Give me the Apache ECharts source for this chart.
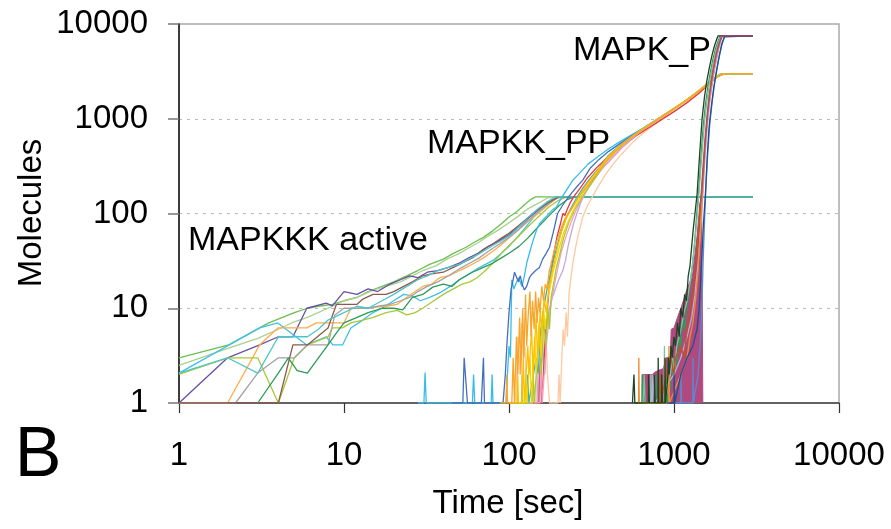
<!DOCTYPE html>
<html>
<head>
    <meta charset="utf-8">
    <title>MAPK cascade - stochastic runs</title>
    <script src="https://cdn.jsdelivr.net/npm/echarts@6/dist/echarts.min.js"></script>
    <style>
        html, body {margin: 0; padding: 0; background: #fff;}
        #main {width: 891px; height: 529px;}
    </style>
</head>
<body>
<div id="main"></div>
<script>
    // tick labels of both log axes
    var timeTicks = [1, 10, 100, 1000, 10000];
    var moleculeTicks = [1, 10, 100, 1000, 10000];

    // ---- MAPKKK active runs: [time, molecules]
    var kkkGreen = [[1, 3], [2, 4.1], [3.5, 7], [5, 9], [6, 10], [7, 10.5], [8.5, 11], [10, 12], [12, 13], [14, 15], [17, 17], [20, 19], [24, 22], [28, 25], [33, 29], [40, 33], [46, 38], [55, 44], [62, 50], [70, 56], [80, 66], [90, 78], [100, 92], [112, 105], [125, 125], [135, 140], [145, 150], [3000, 150]];
    var kkkLightGreen = [[1, 2.5], [2, 3.8], [3, 4.8], [4, 6], [5, 7.2], [6, 8], [8, 10], [10, 12], [12, 13], [15, 15.5], [18, 17], [22, 19], [26, 22], [30, 25], [36, 28], [42, 33], [50, 38], [58, 44], [66, 50], [75, 58], [85, 66], [100, 80], [115, 95], [130, 112], [150, 128], [170, 145], [185, 150], [3000, 150]];
    var kkkPurple = [[1, 1], [1.97, 3], [3.08, 4.1], [4, 5], [4.9, 5], [5.95, 10], [7.8, 11.3], [8.5, 10.6], [10, 15], [12, 14], [14, 16], [16, 15], [19, 18], [22, 20], [25, 22], [28, 21], [32, 24], [37, 25], [43, 27], [50, 30], [57, 34], [65, 38], [75, 45], [88, 52], [100, 60], [115, 72], [130, 88], [150, 108], [170, 128], [195, 145], [210, 150], [3000, 150]];
    var kkkCyan = [[1, 2.07], [3.08, 6.2], [3.97, 7], [5.95, 4.1], [7.8, 5], [8.55, 4.1], [9.8, 4.1], [11, 6.2], [13, 7.5], [15, 9], [17, 10], [20, 12], [23, 14], [26, 13.5], [29, 12], [33, 13], [38, 14.5], [44, 17], [50, 20], [57, 23], [64, 26], [72, 29], [80, 32], [90, 38], [100, 45], [112, 56], [125, 70], [140, 90], [160, 118], [180, 138], [200, 150], [3000, 150]];
    var kkkOrange = [[1, 1], [1.97, 1], [3.08, 4.1], [3.97, 6.2], [5.95, 6.2], [6.8, 7], [10, 7], [11, 10], [13, 10], [15, 10.2], [18, 10.5], [21, 11], [24, 13], [27, 15], [30, 17], [34, 18], [38, 21], [43, 22], [48, 24], [55, 27], [62, 30], [70, 34], [80, 40], [90, 47], [100, 55], [115, 68], [130, 82], [150, 100], [175, 125], [200, 150], [3000, 150]];
    var kkkYellowGreen = [[1, 2], [1.97, 3], [3, 3], [4, 1], [5, 3], [6, 4.1], [8, 5], [8.5, 6.2], [9.8, 6.2], [11, 7], [13, 7.5], [15, 8], [18, 9], [21, 9.5], [24, 8.5], [27, 9], [30, 10], [35, 12], [40, 14], [46, 16], [52, 18], [58, 19], [64, 21], [72, 25], [80, 30], [90, 38], [100, 46], [115, 58], [130, 72], [150, 92], [175, 118], [200, 138], [225, 150], [3000, 150]];
    var kkkGray = [[1, 1], [2.2, 1], [3, 2.07], [4, 3], [5, 3], [6, 4.1], [8, 4.1], [8.8, 8.5], [10, 10], [12, 10], [14, 10], [16, 10.5], [19, 11], [22, 12], [25, 13], [28, 15], [32, 17], [37, 19], [43, 22], [50, 26], [58, 30], [66, 34], [75, 40], [88, 48], [100, 56], [115, 68], [130, 84], [150, 104], [175, 128], [200, 150], [3000, 150]];
    var kkkBrown = [[1, 1], [4, 1], [4.9, 4.1], [6, 4.1], [8, 6.2], [9, 11], [10, 11], [12, 11], [13, 12.5], [15, 14], [18, 14], [20, 15], [23, 17], [26, 19], [30, 22], [34, 23], [40, 24], [46, 27], [52, 30], [60, 34], [70, 42], [80, 48], [90, 55], [100, 62], [115, 75], [130, 90], [150, 110], [175, 132], [200, 150], [3000, 150]];
    var kkkDarkGreen = [[3, 1], [4, 2.07], [4.6, 3], [5.2, 2.2], [6, 2.07], [7, 3], [8, 4.1], [9, 5.5], [10, 7], [12, 8], [14, 9], [17, 10], [20, 10], [22.7, 9.6], [26, 13], [30, 14], [34.5, 16.7], [40, 18], [45, 17], [50, 20], [60, 24], [70, 27], [80, 30], [90, 34], [100, 38], [115, 45], [130, 55], [150, 72], [175, 95], [200, 120], [225, 140], [250, 150], [3000, 150]];
    var kkkTeal = [[1, 2.07], [1.97, 3], [3, 2.07], [4, 5], [6, 5], [7, 6], [8, 7.5], [10, 9], [12, 10.5], [14, 10], [17, 12], [20, 14], [24, 17], [28, 20], [32, 22], [37, 25], [43, 27], [50, 29], [57, 33], [65, 37], [75, 43], [87, 50], [100, 58], [115, 72], [130, 90], [150, 112], [170, 132], [190, 150], [3000, 150]];

    // ---- MAPKK_PP runs
    var kkCyan = [[28, 1], [30.5, 1], [31, 2.1], [31.5, 1], [60, 1], [61, 2], [62, 1], [78, 1], [79, 2], [80, 1], [96, 1], [98, 2.1], [100, 4], [102, 3], [104, 20], [107, 16], [110, 18], [114, 21], [120, 17], [124, 22], [128, 30], [134, 40], [140, 52], [147, 67], [153, 78], [160, 85], [170, 95], [182, 108], [194, 117], [205, 140], [220, 170], [244, 225], [270, 270], [300, 330], [340, 390], [400, 480], [460, 560], [540, 660], [630, 770], [740, 920], [870, 1100], [1000, 1290], [1150, 1500], [1300, 1760], [1450, 2050], [1600, 2380], [1750, 2700], [1900, 2960], [1960, 3000], [3000, 3000]];
    var kkBlue = [[45, 1], [52.5, 1], [53.5, 3], [55, 3], [56, 1], [68, 1], [70, 3], [71, 1], [92, 1], [95, 2], [97, 4], [100, 9], [103, 16], [106, 20], [108, 24], [111, 23], [114, 19], [117, 22], [120, 18], [124, 15.6], [128, 17], [133, 21], [138, 23], [145, 25], [153, 27], [160, 33], [168, 38], [176, 44], [185, 62], [197, 100], [210, 120], [222, 138], [240, 165], [260, 195], [280, 225], [310, 300], [350, 370], [400, 450], [480, 560], [560, 670], [660, 800], [780, 960], [900, 1130], [1050, 1350], [1200, 1580], [1400, 1920], [1600, 2340], [1800, 2730], [2000, 3000], [3000, 3000]];
    var kkPeach = [[105, 1], [110, 1], [113, 5], [116, 2], [119, 7], [122, 3], [125, 4], [128, 1], [145, 1], [147, 2], [150, 1], [156, 3], [160, 8], [163, 3], [167, 6], [171, 2], [176, 1], [198, 1], [201, 2], [204, 1], [209, 3], [213, 6], [217, 4], [222, 9], [226, 5], [231, 14], [238, 22], [244, 30], [252, 42], [262, 58], [272, 75], [280, 92], [292, 110], [305, 130], [320, 150], [345, 190], [380, 250], [420, 320], [480, 420], [560, 560], [660, 720], [780, 900], [920, 1120], [1080, 1380], [1280, 1700], [1480, 2080], [1680, 2470], [1880, 2850], [2050, 3000], [3000, 3000]];
    var kkLavender = [[130, 1], [148, 1], [150, 2], [152, 1], [160, 4], [165, 2], [170, 7], [176, 10], [183, 13], [191, 16], [200, 20], [212, 25], [220, 32], [228, 45], [237, 60], [247, 80], [258, 100], [272, 130], [290, 165], [320, 215], [360, 285], [420, 380], [500, 520], [600, 680], [720, 860], [860, 1060], [1020, 1300], [1200, 1590], [1400, 1950], [1600, 2330], [1800, 2720], [2000, 3000], [3000, 3000]];
    var kkRed = [[140, 1], [152, 1], [155, 3], [158, 1], [165, 4], [170, 9], [175, 16], [181, 26], [188, 40], [196, 58], [205, 78], [212, 100], [218, 95], [225, 110], [235, 130], [250, 155], [270, 185], [300, 240], [340, 305], [400, 400], [480, 510], [580, 650], [700, 800], [850, 990], [1000, 1190], [1200, 1480], [1430, 1880], [1650, 2400], [1850, 2800], [2050, 3000], [3000, 3000]];
    var kkPink = [[120, 1], [138, 1], [140, 2], [143, 1], [154, 1], [156, 3], [159, 1], [168, 4], [174, 7], [181, 12], [189, 18], [198, 27], [208, 40], [220, 55], [234, 75], [250, 100], [268, 130], [290, 165], [320, 220], [360, 290], [420, 390], [500, 530], [600, 690], [720, 870], [860, 1070], [1020, 1310], [1200, 1600], [1400, 1960], [1600, 2350], [1800, 2740], [2000, 3000], [3000, 3000]];
    var kkTeal = [[110, 1], [128, 1], [130, 2], [132, 1], [146, 3], [150, 2], [156, 6], [162, 10], [169, 15], [177, 22], [186, 32], [196, 46], [208, 66], [222, 90], [238, 115], [256, 145], [280, 185], [310, 235], [350, 300], [400, 410], [480, 540], [570, 680], [680, 840], [810, 1020], [960, 1230], [1130, 1480], [1330, 1820], [1530, 2200], [1730, 2600], [1930, 2950], [1980, 3000], [3000, 3000]];
    var kkYellowGreen = [[100, 1], [119, 1], [120, 2], [121, 1], [138, 1], [140, 2], [142, 1], [149, 3], [153, 6], [157, 2], [162, 8], [167, 4], [172, 10], [176, 6], [180, 13], [186, 18], [193, 26], [202, 36], [214, 55], [230, 80], [250, 110], [275, 145], [305, 190], [350, 270], [400, 380], [480, 520], [570, 660], [680, 820], [810, 1000], [960, 1210], [1130, 1460], [1330, 1800], [1530, 2190], [1730, 2590], [1930, 2940], [2000, 3000], [3000, 3000]];
    var kkYellow = [[115, 1], [125, 1], [126, 2], [128, 1], [134, 3], [137, 1], [143, 5], [146, 2], [152, 7], [156, 3], [162, 10], [166, 6], [172, 13], [178, 17], [185, 24], [193, 32], [202, 44], [214, 62], [228, 82], [244, 105], [262, 135], [285, 170], [315, 225], [360, 300], [410, 400], [480, 520], [560, 650], [660, 800], [780, 970], [920, 1170], [1080, 1400], [1280, 1720], [1480, 2100], [1680, 2500], [1880, 2870], [2020, 3000], [3000, 3000]];
    var kkGold = [[100, 1], [112, 1], [113, 2], [114, 1], [120, 1], [122, 3], [124, 1], [130, 4], [132, 2], [137, 6], [140, 2], [146, 8], [149, 3], [155, 10], [158, 5], [163, 13], [168, 9], [174, 16], [180, 22], [188, 30], [197, 44], [208, 64], [222, 88], [238, 110], [255, 135], [280, 175], [310, 225], [350, 295], [400, 400], [470, 520], [550, 640], [650, 790], [770, 950], [900, 1140], [1050, 1350], [1250, 1680], [1450, 2050], [1650, 2450], [1850, 2830], [2000, 3000], [3000, 3000]];
    var kkOrange = [[88, 1], [96, 1], [97, 2], [98, 1], [104, 1], [106, 3], [108, 1], [111, 5], [113, 2], [116, 8], [118, 2], [121, 10], [123, 3], [126, 14], [128, 4], [131, 9], [134, 15], [136, 5], [139, 12], [142, 6], [145, 15], [148, 7], [151, 13], [154, 9], [158, 17], [162, 12], [166, 18], [170, 16], [175, 24], [182, 32], [190, 44], [198, 56], [207, 70], [218, 88], [230, 102], [244, 118], [260, 145], [280, 170], [307, 205], [340, 260], [380, 340], [430, 430], [500, 560], [580, 680], [680, 820], [800, 990], [950, 1210], [1100, 1430], [1300, 1730], [1500, 2130], [1700, 2560], [1900, 2900], [2050, 3000], [3000, 3000]];

    // ---- MAPK_P runs
    var kDarkGreen = [[560, 1], [571, 1], [572, 2], [578, 2], [579, 1], [700, 1], [701, 2], [708, 2], [709, 1], [760, 1], [762, 2], [770, 1], [800, 1], [802, 3], [806, 1], [840, 1], [842, 2], [850, 2], [852, 1], [880, 1], [882, 3], [888, 1], [920, 2], [925, 3], [935, 2], [960, 4], [975, 3], [1000, 5], [1020, 4], [1050, 7], [1075, 5], [1100, 10], [1130, 8], [1160, 14], [1190, 12], [1220, 22], [1250, 28], [1280, 45], [1310, 70], [1340, 100], [1380, 160], [1420, 350], [1450, 600], [1480, 1000], [1530, 1700], [1580, 2500], [1640, 3500], [1700, 4700], [1760, 5900], [1820, 7000], [1850, 7500], [3000, 7500]];
    var kGreen = [[600, 1], [640, 1], [641, 2], [648, 2], [649, 1], [780, 1], [781, 2], [786, 1], [900, 1], [902, 2], [910, 1], [980, 2], [990, 3], [1000, 2], [1050, 3], [1080, 5], [1100, 4], [1130, 8], [1160, 6], [1200, 10], [1230, 14], [1270, 22], [1300, 30], [1340, 55], [1380, 110], [1420, 200], [1460, 420], [1500, 800], [1550, 1400], [1600, 2100], [1660, 3100], [1720, 4200], [1790, 5600], [1860, 6800], [1900, 7500], [3000, 7500]];
    var kTealGreen = [[650, 1], [660, 2], [668, 1], [720, 1], [722, 2], [726, 1], [870, 1], [875, 4], [880, 1], [950, 2], [980, 3], [1000, 2], [1040, 4], [1100, 6], [1150, 9], [1200, 12], [1260, 20], [1320, 40], [1380, 90], [1430, 200], [1480, 450], [1530, 900], [1580, 1500], [1640, 2400], [1720, 3800], [1800, 5300], [1880, 6800], [1920, 7500], [3000, 7500]];
    var kLavender = [[730, 1], [738, 2], [745, 1], [760, 1], [762, 2], [768, 1], [1000, 2], [1100, 3], [1200, 5], [1280, 8], [1340, 14], [1400, 30], [1450, 70], [1500, 170], [1540, 380], [1590, 800], [1640, 1400], [1710, 2400], [1790, 3800], [1870, 5500], [1950, 7100], [1980, 7500], [3000, 7500]];
    var kOrange = [[610, 1], [612, 3], [616, 1], [850, 1], [880, 1], [882, 3], [888, 1], [930, 1], [932, 4], [938, 1], [1100, 2], [1200, 3], [1250, 5], [1300, 7], [1350, 12], [1400, 25], [1440, 60], [1480, 140], [1520, 300], [1560, 650], [1610, 1200], [1670, 2000], [1740, 3200], [1820, 4800], [1900, 6500], [1960, 7500], [3000, 7500]];
    var kBrown = [[750, 1], [820, 1], [822, 2], [830, 1], [900, 2], [960, 3], [1000, 2], [1020, 3], [1100, 4], [1150, 3], [1200, 6], [1250, 9], [1300, 14], [1340, 22], [1380, 40], [1420, 80], [1460, 160], [1500, 320], [1540, 600], [1580, 1000], [1630, 1700], [1690, 2700], [1760, 4000], [1840, 5600], [1920, 7000], [1960, 7500], [3000, 7500]];
    var kLightBlue = [[1000, 1], [1100, 1], [1102, 2], [1110, 1], [1300, 1], [1302, 3], [1310, 1], [1400, 2], [1450, 5], [1480, 12], [1500, 30], [1530, 80], [1560, 180], [1600, 420], [1650, 900], [1710, 1600], [1780, 2700], [1860, 4100], [1940, 5800], [2010, 7100], [2040, 7500], [3000, 7500]];
    var kDarkBlue = [[900, 1], [1000, 1], [1002, 2], [1010, 1], [1100, 2], [1200, 3], [1300, 4], [1380, 6], [1420, 10], [1450, 20], [1480, 40], [1510, 80], [1550, 160], [1590, 400], [1630, 800], [1680, 1300], [1740, 2100], [1810, 3200], [1880, 4600], [1950, 6200], [2020, 7300], [2050, 7500], [3000, 7500]];
    // dense magenta run: the noisy part reads as a filled block
    var kMagentaNoise = [[640, 1], [645, 2], [740, 2], [760, 2.1], [800, 2.2], [860, 2.3], [900, 3], [950, 3.1], [962, 6], [1000, 6.2], [1050, 8], [1100, 10], [1150, 12.5], [1200, 16], [1250, 19], [1290, 21], [1330, 33], [1380, 58], [1430, 117], [1470, 150], [1490, 150], [1495, 1]];
    var kMagenta = [[1430, 117], [1470, 160], [1510, 300], [1550, 600], [1600, 1150], [1650, 1900], [1720, 3100], [1800, 4700], [1880, 6300], [1950, 7500], [3000, 7500]];

    var runs = [
        [kkkGreen, '#6cbf4f'], [kkkLightGreen, '#a9d08e'], [kkkPurple, '#6650a8'], [kkkCyan, '#3ec0ea'],
        [kkkOrange, '#ffac4a'], [kkkYellowGreen, '#a8c838'], [kkkGray, '#a3a3a3'], [kkkBrown, '#8c5a50'],
        [kkkDarkGreen, '#2e9a5a'], [kkkTeal, '#4ec4ca'],
        [kkCyan, '#38bde8'], [kkBlue, '#4470c0'], [kkPeach, '#fdc9a0'], [kkLavender, '#c4a8d8'],
        [kkRed, '#e83535'], [kkPink, '#f0a0c0'], [kkTeal, '#40b0b0'], [kkYellowGreen, '#a8c838'],
        [kkYellow, '#f2d600'], [kkGold, '#ffc000'], [kkOrange, '#f7a62a'],
        [kGreen, '#2e9a5a'], [kTealGreen, '#7fc2a0'], [kLavender, '#b8b0d8'], [kOrange, '#f08c30'],
        [kBrown, '#c0521e'], [kLightBlue, '#5a8ad2'], [kDarkBlue, '#1f4e8c'], [kDarkGreen, '#1d4424'],
        [kMagenta, '#ae4a7f']
    ];

    var series = [];
    series.push({
        type: 'line',
        data: kMagentaNoise,
        symbol: 'none',
        silent: true,
        lineStyle: {color: '#ae4a7f', width: 1},
        areaStyle: {color: '#ae4a7f', opacity: 1, origin: 'start'},
        z: 2
    });
    for (var i = 0; i < runs.length; i++) {
        series.push({
            type: 'line',
            data: runs[i][0],
            symbol: 'none',
            silent: true,
            lineStyle: {color: runs[i][1], width: 1.3},
            z: 3
        });
    }

    var txt = '"Liberation Sans", Arial, sans-serif';

    var myChart = echarts.init(document.getElementById('main'));
    myChart.setOption({
        animation: false,
        backgroundColor: '#fff',
        grid: {
            left: 179, right: 52, top: 24, bottom: 126,
            show: true, borderColor: '#aaa', borderWidth: 1.5
        },
        xAxis: {
            type: 'log', logBase: 10, min: 1, max: 10000,
            axisLine: {lineStyle: {color: '#444', width: 1.5}},
            axisTick: {length: 10, lineStyle: {color: '#333', width: 1.2}},
            axisLabel: {
                margin: 36, color: '#000', fontSize: 33, fontFamily: txt,
                formatter: function (v) { return timeTicks.indexOf(v) >= 0 ? String(v) : ''; }
            },
            splitLine: {show: false}
        },
        yAxis: {
            type: 'log', logBase: 10, min: 1, max: 10000,
            axisLine: {show: true, lineStyle: {color: '#111', width: 1.5}},
            axisTick: {length: 11, lineStyle: {color: '#777', width: 1.5}},
            axisLabel: {
                margin: 31, color: '#000', fontSize: 33, fontFamily: txt,
                formatter: function (v) { return moleculeTicks.indexOf(v) >= 0 ? String(v) : ''; }
            },
            splitLine: {lineStyle: {color: '#bbb', type: [3, 5], width: 1.2}}
        },
        graphic: [
            {type: 'text', x: 32, y: 213, rotation: Math.PI / 2, style: {text: 'Molecules', font: '33px ' + txt, fill: '#000', textAlign: 'center', textVerticalAlign: 'middle'}},
            {type: 'text', x: 508, y: 504, style: {text: 'Time [sec]', font: '33px ' + txt, fill: '#000', textAlign: 'center', textVerticalAlign: 'middle'}},
            {type: 'text', x: 38, y: 457, style: {text: 'B', font: '70px ' + txt, fill: '#000', textAlign: 'center', textVerticalAlign: 'middle'}},
            {type: 'text', x: 188, y: 241, z: 10, style: {text: 'MAPKKK active', font: '34px ' + txt, fill: '#000', textAlign: 'left', textVerticalAlign: 'middle'}},
            {type: 'text', x: 427, y: 144, z: 10, style: {text: 'MAPKK_PP', font: '34px ' + txt, fill: '#000', textAlign: 'left', textVerticalAlign: 'middle'}},
            {type: 'text', x: 573, y: 51, z: 10, style: {text: 'MAPK_P', font: '34px ' + txt, fill: '#000', textAlign: 'left', textVerticalAlign: 'middle'}}
        ],
        series: series
    });
</script>
</body>
</html>
